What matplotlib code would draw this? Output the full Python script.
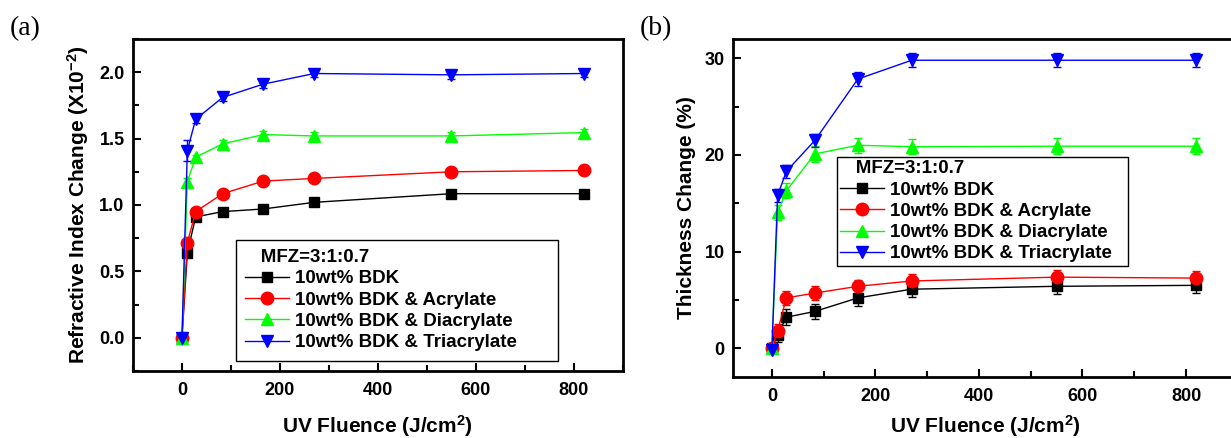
import numpy as np
import matplotlib
matplotlib.use('Agg')
import matplotlib.pyplot as plt
from matplotlib.ticker import MultipleLocator

plt.rcParams['font.family'] = ['Liberation Sans', 'DejaVu Sans']
plt.rcParams['font.weight'] = 'bold'
plt.rcParams['axes.labelweight'] = 'bold'
plt.rcParams['mathtext.fontset'] = 'custom'
plt.rcParams['mathtext.rm'] = 'Liberation Sans:bold'
plt.rcParams['mathtext.default'] = 'rm'

# UV fluence (J/cm^2)
fluence = [0, 11, 28, 83, 166, 270, 550, 820]

labels = ['10wt% BDK', '10wt% BDK & Acrylate',
          '10wt% BDK & Diacrylate', '10wt% BDK & Triacrylate']

# (a) refractive index change (x1e-2)
ri_bdk = [0.0, 0.64, 0.91, 0.95, 0.97, 1.02, 1.085, 1.085]
ri_acr = [0.0, 0.715, 0.95, 1.085, 1.18, 1.20, 1.25, 1.26]
ri_diacr = [0.0, 1.175, 1.36, 1.46, 1.53, 1.52, 1.52, 1.545]
ri_triacr = [0.0, 1.41, 1.645, 1.81, 1.91, 1.99, 1.98, 1.99]
ri_err_bdk = [0.02, 0.03, 0.02, 0.02, 0.02, 0.02, 0.02, 0.02]
ri_err_acr = [0.02, 0.03, 0.02, 0.02, 0.02, 0.02, 0.02, 0.02]
ri_err_diacr = [0.02, 0.03, 0.02, 0.03, 0.03, 0.03, 0.03, 0.03]
ri_err_triacr = [0.02, 0.08, 0.03, 0.03, 0.03, 0.03, 0.03, 0.03]

# (b) thickness change (%)
th_bdk = [0.0, 1.4, 3.2, 3.8, 5.2, 6.1, 6.4, 6.5]
th_acr = [0.0, 1.75, 5.2, 5.7, 6.4, 6.95, 7.35, 7.25]
th_diacr = [0.0, 14.05, 16.3, 20.1, 21.0, 20.85, 20.9, 20.9]
th_triacr = [-0.2, 15.8, 18.3, 21.5, 27.85, 29.8, 29.8, 29.8]
th_err_bdk = [0.3, 0.8, 0.8, 0.8, 0.8, 0.8, 0.8, 0.8]
th_err_acr = [0.3, 0.7, 0.7, 0.7, 0.7, 0.7, 0.7, 0.7]
th_err_diacr = [0.3, 0.8, 0.8, 0.8, 0.8, 0.8, 0.8, 0.8]
th_err_triacr = [0.3, 0.7, 0.7, 0.7, 0.7, 0.7, 0.7, 0.7]

colors = ['black', '#ff0000', '#00ff00', '#0000ff']
markers = ['s', 'o', '^', 'v']
msizes = [7.5, 9, 9, 9]


def draw_panel(ax, series, errs, ylabel, xlim, ylim, ymajor, yminor, xpad):
    lines = []
    for y, e, c, m, ms, lab in zip(series, errs, colors, markers, msizes, labels):
        eb = ax.errorbar(fluence, y, yerr=e, color=c, marker=m, markersize=ms,
                         linewidth=1, capsize=3, elinewidth=1, capthick=1,
                         label=lab)
        lines.append(eb[0])
    ax.set_xlim(*xlim)
    ax.set_ylim(*ylim)
    ax.xaxis.set_major_locator(MultipleLocator(200))
    ax.xaxis.set_minor_locator(MultipleLocator(100))
    ax.yaxis.set_major_locator(MultipleLocator(ymajor))
    ax.yaxis.set_minor_locator(MultipleLocator(yminor))
    ax.tick_params(which='both', direction='in', top=False, right=False,
                   labelsize=13, width=1.5)
    ax.tick_params(axis='x', pad=8)
    ax.tick_params(axis='y', pad=6)
    ax.tick_params(which='major', length=6)
    ax.tick_params(which='minor', length=4)
    for sp in ax.spines.values():
        sp.set_linewidth(2)
    ax.set_xlabel('UV Fluence (J/cm$^2$)', fontsize=15, labelpad=xpad)
    ax.set_ylabel(ylabel, fontsize=15, labelpad=6)
    return lines


fig = plt.figure(figsize=(12.31, 4.38), dpi=100)
ax1 = fig.add_axes([0.108, 0.153, 0.398, 0.758])
ax2 = fig.add_axes([0.5955, 0.139, 0.410, 0.772])

h1 = draw_panel(ax1, [ri_bdk, ri_acr, ri_diacr, ri_triacr],
                [ri_err_bdk, ri_err_acr, ri_err_diacr, ri_err_triacr],
                'Refractive Index Change (X10$^{-2}$)',
                (-100, 900), (-0.25, 2.25), 0.5, 0.25, 10)
h2 = draw_panel(ax2, [th_bdk, th_acr, th_diacr, th_triacr],
                [th_err_bdk, th_err_acr, th_err_diacr, th_err_triacr],
                'Thickness Change (%)',
                (-75, 900), (-3, 32), 10, 5, 6)

for ax, h, bbox, bpad in [(ax1, h1, (0.21, 0.024, 0.657, 0.371), 0.5),
                          (ax2, h2, (0.205, 0.322, 0.577, 0.33), 0.2)]:
    leg = ax.legend(h, labels, title='   MFZ=3:1:0.7', loc='upper left',
                    bbox_to_anchor=bbox, mode='expand', borderaxespad=0,
                    fontsize=13.5, title_fontsize=13.5, alignment='left',
                    numpoints=1, handlelength=2.35, handletextpad=0.3,
                    labelspacing=0.22, borderpad=bpad, fancybox=False,
                    edgecolor='black', framealpha=1)
    leg.get_frame().set_linewidth(1)
    leg.get_title().set_fontweight('bold')

fig.text(0.008, 0.92, '(a)', fontsize=20, family='Liberation Serif',
         fontweight='normal')
fig.text(0.52, 0.92, '(b)', fontsize=20, family='Liberation Serif',
         fontweight='normal')

fig.savefig('out.png', dpi=100)
